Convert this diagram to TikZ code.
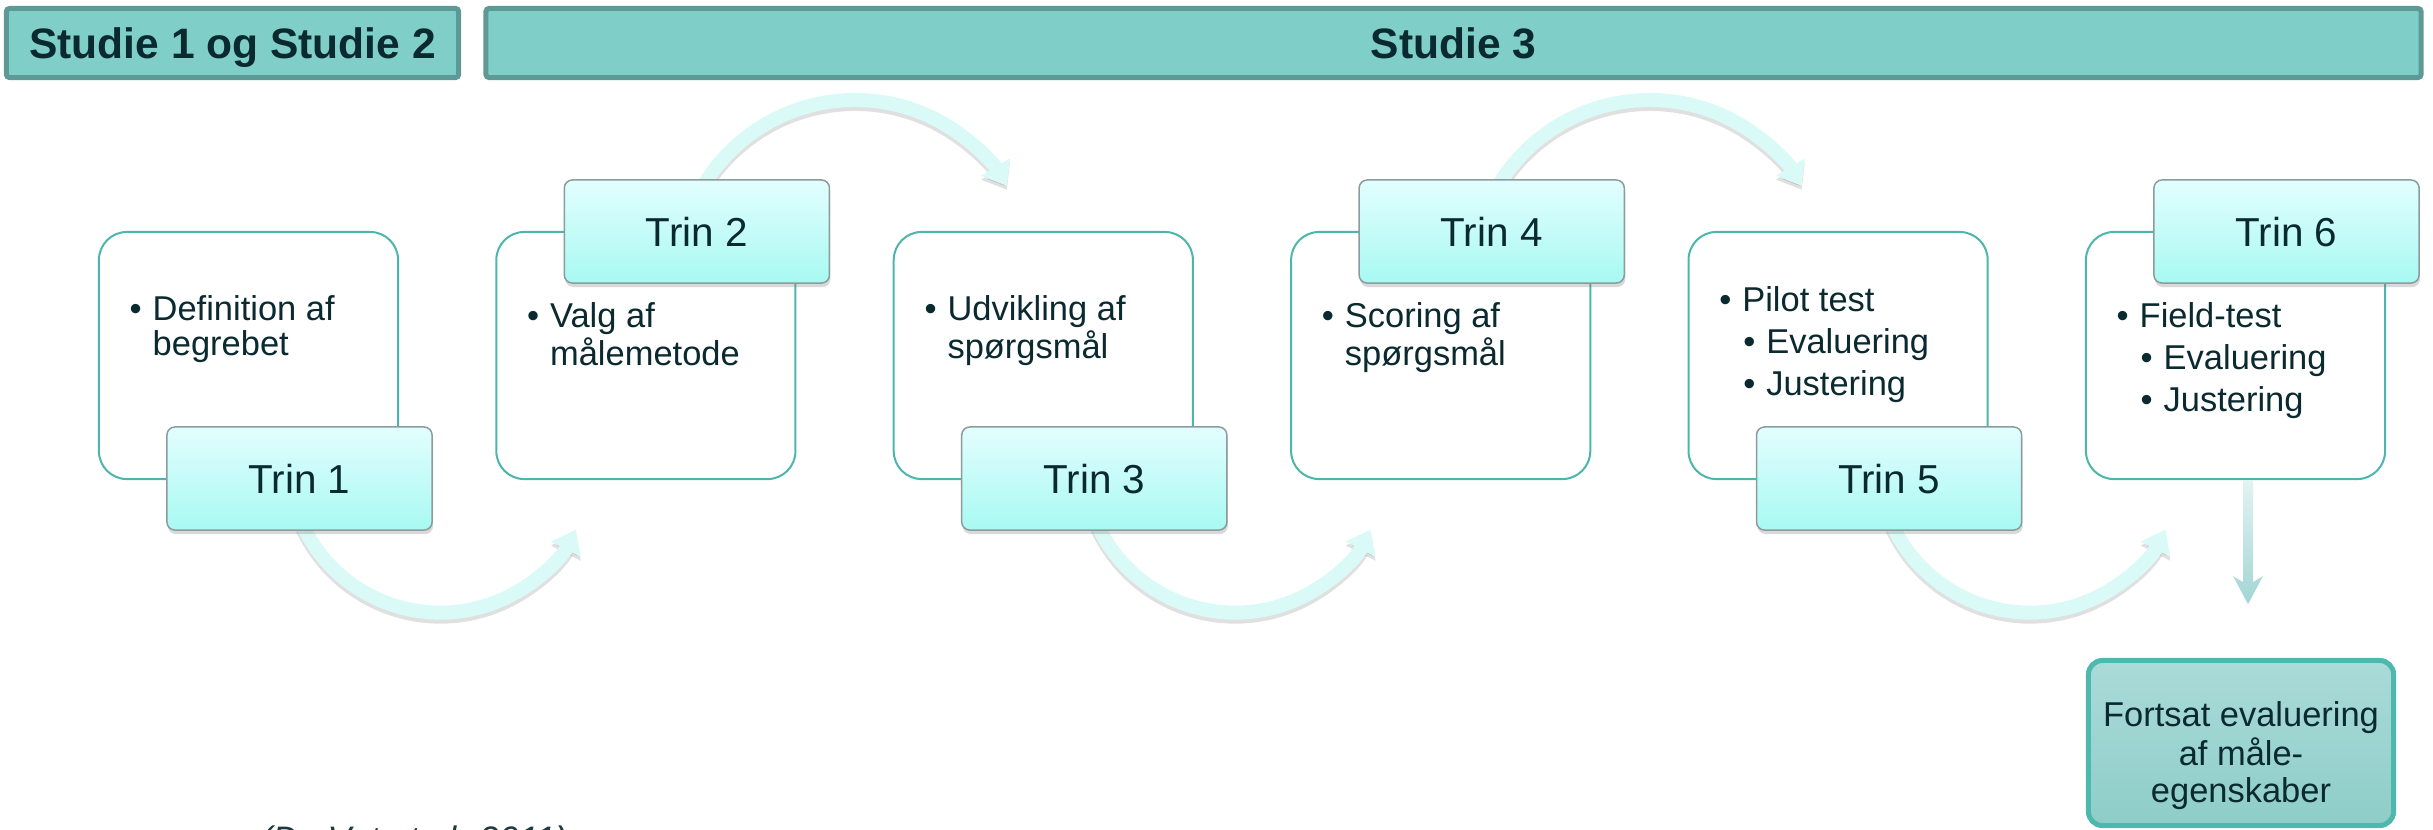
\documentclass[tikz,border=0pt]{standalone}
\usepackage{fontspec}
\setmainfont{Liberation Sans}
\usetikzlibrary{calc,arrows.meta,shadows}
\pgfdeclarelayer{background}
\pgfsetlayers{background,main}

\definecolor{steptext}{HTML}{0B2A30}
\definecolor{headfill}{HTML}{7FCEC7}
\definecolor{headline}{HTML}{5E9A95}
\definecolor{cardline}{HTML}{4DB6AC}
\definecolor{tagtop}{HTML}{E2FEFE}
\definecolor{tagbottom}{HTML}{A8F9F2}
\definecolor{tagline}{HTML}{8C9C9C}
\definecolor{flowcol}{HTML}{DAFAF8}
\definecolor{fintop}{HTML}{AADBD8}
\definecolor{finbottom}{HTML}{8ECDC8}
\definecolor{finline}{HTML}{4DB8AE}
\definecolor{downlight}{HTML}{E2F3F2}
\definecolor{downdark}{HTML}{A2D5D3}
\definecolor{citecol}{HTML}{1F3A3F}

\newcommand\steppitch{397.4}
\newcommand\headfont{\fontsize{12.1}{14}\selectfont\bfseries}
\newcommand\tagfont{\fontsize{11.5}{13.5}\selectfont}
\newcommand\itemfont{\fontsize{9.8}{10.1}\selectfont}
\newcommand\finfont{\fontsize{9.8}{10.67}\selectfont}
\newcommand\itm{\makebox[0.23cm][l]{•}}
\newcommand\itmcont{\hspace*{0.23cm}}
\newcommand\subitm{\hspace*{0.24cm}\itm}
\newcommand\subgap{\\[1.85pt]}

\tikzset{
  stephead/.style={draw=headline, line width=0.05cm, fill=headfill, minimum height=0.69cm,
    rounded corners=0.03cm, font=\headfont, text=steptext, text height=0.304cm, text depth=0pt, inner sep=0},
  stepcard/.style={draw=cardline, line width=0.02cm, fill=white, rounded corners=0.28cm,
    minimum width=2.99cm, minimum height=2.47cm, inner sep=0},
  steptag/.style={draw=tagline, line width=0.015cm, top color=tagtop, bottom color=tagbottom,
    rounded corners=0.08cm, minimum width=2.65cm, minimum height=1.03cm, inner sep=0,
    font=\tagfont, text=steptext, text height=0.29cm, text depth=0pt,
    drop shadow={shadow xshift=0.01cm, shadow yshift=-0.04cm, opacity=0.3}},
  stepitems/.style={anchor=base west, inner sep=0, font=\itemfont, text=steptext},
  stepflow/.style={line width=0.14cm, draw=flowcol, -{Triangle[width=0.32cm, length=0.22cm]}},
  stepflowshadow/.style={stepflow, draw=black, opacity=0.12},
  finbox/.style={draw=finline, line width=0.05cm, top color=fintop, bottom color=finbottom,
    rounded corners=0.14cm, minimum width=3.05cm, minimum height=1.65cm, inner sep=0},
  fintext/.style={anchor=base, inner sep=0, font=\finfont, text=steptext}
}

\newcommand\stepat[1]{\pgfmathparse{98 + \steppitch*(#1-1)}\let\x\pgfmathresult}
\newcommand\lowstep[3]{
  \stepat{#1}
  \node[stepcard] (c#1) at (\x + 150.5, -355.5) {};
  \node[steptag] (t#1) at (\x + 201.5, -478.5) {Trin #1};
  \node[stepitems] (i#1) at (\x + 31, -231 - #2) {\begin{tabular}[t]{@{}l@{}}#3\end{tabular}};
}
\newcommand\highstep[3]{
  \stepat{#1}
  \node[stepcard] (c#1) at (\x + 150.5, -355.5) {};
  \node[steptag] (t#1) at (\x + 201.5, -231.5) {Trin #1};
  \node[stepitems] (i#1) at (\x + 31, -231 - #2) {\begin{tabular}[t]{@{}l@{}}#3\end{tabular}};
}

\begin{document}
\begin{tikzpicture}[x=0.01cm, y=0.01cm]
  \useasboundingbox (0,0) rectangle (2433,-829);
  \node[stephead, minimum width=4.52cm] (s12) at (232.5,-43) {Studie 1 og Studie 2};
  \node[stephead, minimum width=19.34cm] (s3) at (1453.5,-43) {Studie 3};

  \lowstep{1}{89}{\itm Definition af\\\itmcont begrebet}
  \highstep{2}{96}{\itm Valg af\\\itmcont målemetode}
  \lowstep{3}{89}{\itm Udvikling af\\\itmcont spørgsmål}
  \highstep{4}{96}{\itm Scoring af\\\itmcont spørgsmål}
  \lowstep{5}{80}{\itm Pilot test\subgap\subitm Evaluering\subgap\subitm Justering}
  \highstep{6}{96}{\itm Field-test\subgap\subitm Evaluering\subgap\subitm Justering}

  % final box and the arrow into it
  \node[finbox] (fin) at (2241,-743) {};
  \node[fintext] (fintxt) at (2241,-726) {\begin{tabular}[t]{@{}c@{}}Fortsat evaluering\\af måle-\\egenskaber\end{tabular}};
  \coordinate (dntop) at ($(c6.south)+(12.5,0)$);
  \coordinate (dntip) at ($(dntop)+(0,-124)$);
  \shade[top color=downlight, bottom color=downdark]
    ($(dntop)+(-5,0)$) -- ($(dntop)+(5,0)$) -- ($(dntip)+(5,22)$) -- ($(dntip)+(15,28)$)
    -- (dntip) -- ($(dntip)+(-15,28)$) -- ($(dntip)+(-5,22)$) -- cycle;

  \node[anchor=base west, inner sep=0, font=\fontsize{10.07}{12}\selectfont\itshape, text=citecol] (cite) at (260,-851) {(De Vet et al. 2011)};

  \begin{pgfonlayer}{background}
    \foreach \i in {1,3,5} {
      \draw[stepflowshadow] ($(t\i.south)+(3,2)$) arc[start angle=205, end angle=333, radius=1.52cm];
      \draw[stepflow] ($(t\i.south)+(3,6)$) arc[start angle=205, end angle=333, radius=1.52cm];
    }
    \foreach \i in {2,4} {
      \draw[stepflowshadow] ($(t\i.north)+(8,-8)$) arc[start angle=148, end angle=31, radius=1.77cm];
      \draw[stepflow] ($(t\i.north)+(8,-4)$) arc[start angle=148, end angle=31, radius=1.77cm];
    }
  \end{pgfonlayer}
\end{tikzpicture}
\end{document}
